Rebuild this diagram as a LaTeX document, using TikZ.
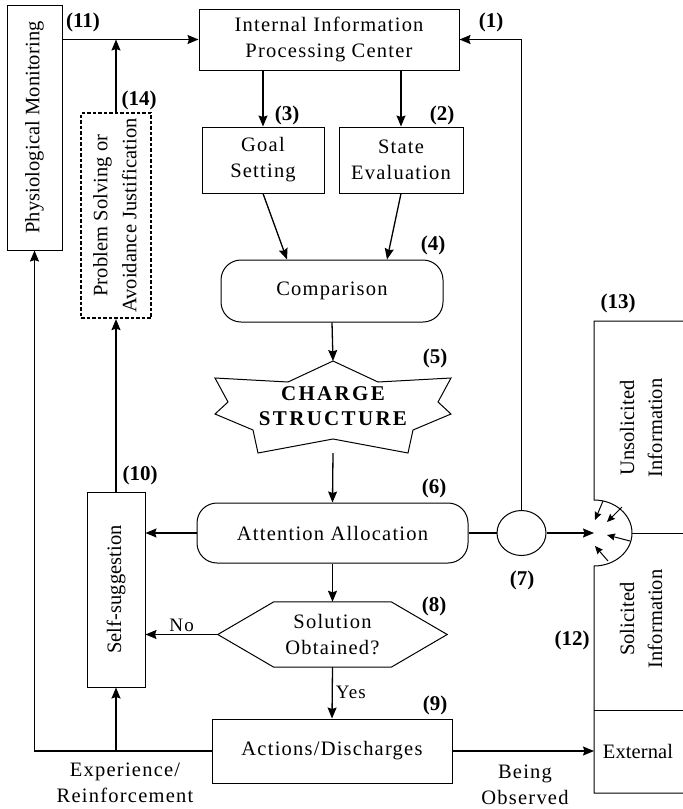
\documentclass[tikz,border=0pt]{standalone}
\usepackage{fontspec}
\usepackage{graphicx}
\setmainfont{Liberation Serif}
\newfontfamily\widefont{Liberation Serif}[LetterSpace=6]
\newfontfamily\narrowfont{Liberation Serif}[LetterSpace=0.5]
\newfontfamily\chargefont{Liberation Serif}[LetterSpace=11]
\usetikzlibrary{calc,positioning,shapes.geometric,arrows.meta}

\tikzset{
  box/.style={draw, line width=1pt, inner sep=2pt, align=center, font=\widefont\fontsize{20.5}{26}\selectfont},
  rotbox/.style={box, font=\narrowfont\fontsize{20.5}{29}\selectfont},
  roundbox/.style={box, rounded corners=20pt},
  probbox/.style={rotbox, line width=2.2pt, dash pattern=on 3.5pt off 2pt},
  arr/.style={line width=1.3pt, -{Stealth[length=11pt,width=9pt,inset=1.5pt]}},
  tinyarr/.style={line width=1pt, -{Stealth[length=8pt,width=7pt,inset=1pt]}},
  num/.style={font=\bfseries\fontsize{21}{22}\selectfont},
  lbl/.style={align=center, font=\widefont\fontsize{20.5}{26}\selectfont},
  smalllbl/.style={font=\widefont\fontsize{19}{22}\selectfont},
  sidelbl/.style={align=center, font=\narrowfont\fontsize{20.5}{28}\selectfont},
}

\begin{document}
\begin{tikzpicture}[x=1pt,y=-1pt]
  \useasboundingbox (0,0) rectangle (683,809);

  \node[rotbox, minimum width=55pt, minimum height=245pt] (phys) at (34.5,127.5) {\rotatebox{90}{Physiological Monitoring}};
  \node[box, minimum width=260pt, minimum height=61pt] (iipc) at (329,39.5) {Internal Information\\Processing Center};
  \node[box, minimum width=122pt, minimum height=66pt] (goal) at (263,160) {Goal\\Setting};
  \node[box, minimum width=124pt, minimum height=66pt] (state) at (401,160) {State\\Evaluation};
  \node[roundbox, minimum width=222pt, minimum height=62pt] (comp) at (332,291) {Comparison};
  \node[probbox, minimum width=70pt, minimum height=205pt] (prob) at (116,215.5)
    {\rotatebox{90}{\begin{tabular}{@{}c@{}}Problem Solving or\\Avoidance Justification\end{tabular}}};

  %% charge structure
  \draw[line width=1pt] (333,361) -- (378,382) -- (451,378) -- (438,402) -- (451,414) -- (413,430)
    -- (408,453) -- (333,439) -- (258,453) -- (253,430) -- (215,414) -- (228,402) -- (215,378)
    -- (288,382) -- cycle;
  \node[font=\chargefont\bfseries\fontsize{21}{25}\selectfont, align=center] (charge) at (333,406) {CHARGE\\STRUCTURE};
  \coordinate (chgtop) at (333,361);
  \coordinate (chgbot) at (333,453);

  \node[roundbox, minimum width=271pt, minimum height=60pt] (att) at (332.5,533) {Attention Allocation};
  \node[rotbox, minimum width=58pt, minimum height=195pt] (self) at (116,589.5) {\rotatebox{90}{Self-suggestion}};
  \node[lbl, minimum width=229pt, minimum height=65pt, inner sep=0pt] (hex) at (332.5,634.5) {Solution\\Obtained?};
  \draw[line width=1pt] (hex.west) -- ($(hex.north west)+(56,0)$) -- ($(hex.north east)+(-56,0)$) -- (hex.east)
    -- ($(hex.south east)+(-56,0)$) -- ($(hex.south west)+(56,0)$) -- cycle;
  \node[box, minimum width=240pt, minimum height=64pt] (act) at (332,751) {Actions/Discharges};
  \node[draw, ellipse, line width=1pt, minimum width=49pt, minimum height=45pt, inner sep=0pt] (seven) at (521.5,533) {};

  %% information panel
  \coordinate (panel) at (594,321);
  \draw[line width=1pt] (683,321) -- (panel) -- (594,500) arc[start angle=90, end angle=-90, x radius=38pt, y radius=33pt]
    -- (594,793) -- (683,793);
  \draw[line width=1pt] (632,533) -- (683,533);
  \draw[line width=1pt] (594,710) -- (683,710);
  \node[sidelbl, rotate=90] (unsol) at (641,428) {Unsolicited\\Information};
  \node[sidelbl, rotate=90] (sol) at (641,619) {Solicited\\Information};
  \node[lbl, font=\narrowfont\fontsize{20.5}{26}\selectfont] (ext) at (638,751) {External};
  \draw[tinyarr] (603,501) -- (595,520);
  \draw[tinyarr] (622,507) -- (607,522);
  \draw[tinyarr] (630,541) -- (607,535);
  \draw[tinyarr] (608,561) -- (595,546);

  %% connectors
  \draw[arr] (phys.east |- iipc.west) -- (iipc.west);
  \draw[arr] (prob.north) -- (prob.north |- iipc.west);
  \draw[arr] (goal.north |- iipc.south) -- (goal.north);
  \draw[arr] (state.north |- iipc.south) -- (state.north);
  \draw[arr] (goal.south) -- ($(comp.north)+(-45,0)$);
  \draw[arr] (state.south) -- ($(comp.north)+(55,0)$);
  \draw[arr] (comp.south) -- (chgtop);
  \draw[arr] (chgbot) -- (att.north);
  \draw[arr] (att.west) -- (self.east |- att.west);
  \draw[arr] (self.north) -- (prob.south);
  \draw[arr] (att.south) -- (hex.north);
  \draw[arr] (hex.west) -- (self.east |- hex.west) node[smalllbl, midway, above, inner sep=2pt] {No};
  \draw[arr] (hex.south) -- (act.north) node[smalllbl, midway, right, inner sep=3pt] {Yes};
  \draw[line width=1.3pt] (att.east) -- (seven.west);
  \draw[arr] (seven.east) -- (seven.east -| panel);
  \draw[arr] (seven.north) -- (seven.north |- iipc.east) -- (iipc.east);
  \draw[arr] (act.west) -- (phys.south |- act.west) -- (phys.south);
  \draw[arr] (self.south |- act.west) -- (self.south);
  \draw[arr] (act.east) -- (act.east -| panel);

  \node[lbl] (expr) at (125,783) {Experience/\\Reinforcement};
  \node[lbl] (seen) at (525,785) {Being\\Observed};

  %% step numbers
  \node[num] at (491,22) {(1)};
  \node[num] at (442,115) {(2)};
  \node[num] at (287,115) {(3)};
  \node[num] at (433,245) {(4)};
  \node[num] at (435,358) {(5)};
  \node[num] at (434,488) {(6)};
  \node[num] at (522,580) {(7)};
  \node[num] at (434,606) {(8)};
  \node[num] at (435,705) {(9)};
  \node[num] at (140,475) {(10)};
  \node[num] at (83,22) {(11)};
  \node[num] at (572,640) {(12)};
  \node[num] at (618,303) {(13)};
  \node[num] at (139,100) {(14)};
\end{tikzpicture}
\end{document}
